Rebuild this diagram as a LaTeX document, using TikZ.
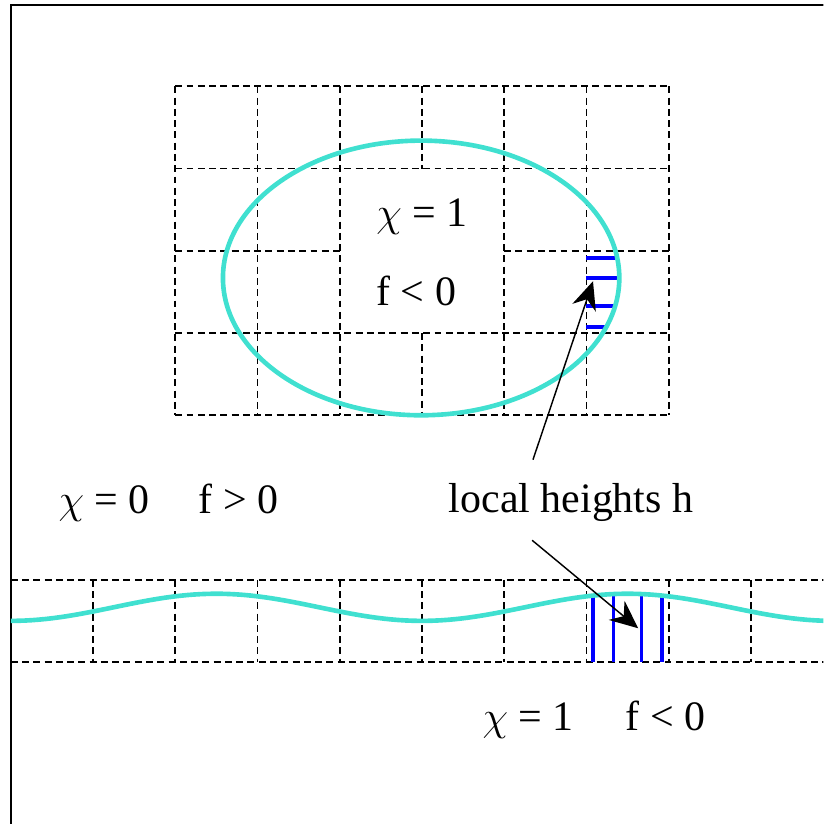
\documentclass[tikz,border=0pt]{standalone}
\usepackage{fontspec}
\setmainfont{Liberation Serif}
\usepackage{tikz}
\usetikzlibrary{arrows.meta, positioning}

\definecolor{wavecyan}{RGB}{64,224,208}

\begin{document}
\begin{tikzpicture}[
    cell/.style={draw, dash pattern=on 2.4pt off 1.5pt, line width=0.6pt},
    iface/.style={draw=wavecyan, line width=1.6pt},
    height/.style={draw=blue, line width=1.3pt},
    lbl/.style={font=\fontsize{14.5}{17}\selectfont, inner sep=0pt, anchor=base west},
    arr/.style={-{Stealth[length=3.4mm, width=3mm, inset=1.1mm]}, line width=0.5pt}
]
    \useasboundingbox (-0.131,-1.97) rectangle (9.88,8.05);
    \clip (-0.131,-1.97) rectangle (9.88,8.05);

    % Frame
    \draw[line width=0.7pt] (0,-2.5) rectangle (10.5,7.99);

    % Upper grid, middle 2x2 block left open
    \foreach \j in {3,4,6,7}{
        \path[cell] (2,\j) -- (8,\j);
    }
    \path[cell] (2,5) -- (4,5);
    \path[cell] (6,5) -- (8,5);
    \foreach \i in {2,3,4,6,7,8}{
        \path[cell] (\i,7) -- (\i,3);
    }
    \path[cell] (5,7) -- (5,6);
    \path[cell] (5,4) -- (5,3);

    % Lower grid
    \path[cell] (0,1) -- (10.2,1);
    \path[cell] (0,0) -- (10.2,0);
    \foreach \i in {1,...,9}{
        \path[cell] (\i,1) -- (\i,0);
    }

    % Drop
    \coordinate (dropc) at (4.99,4.67);
    \begin{scope}
        \clip (dropc) ellipse [x radius=2.41, y radius=1.67];
        \foreach \y in {4.91,4.67,4.33,4.075}{
            \draw[height] (7,\y) -- (8,\y);
        }
    \end{scope}
    \draw[iface] (dropc) ellipse [x radius=2.41, y radius=1.67];

    % Wavy interface
    \begin{scope}
        \clip plot[domain=0:10.2, samples=120] (\x, {0.665-0.165*cos(72*\x)}) -- (10.2,0) -- (0,0) -- cycle;
        \foreach \x in {7.08,7.33,7.67,7.92}{
            \draw[height] (\x,0) -- (\x,1);
        }
    \end{scope}
    \draw[iface] plot[domain=0:10.2, samples=120] (\x, {0.665-0.165*cos(72*\x)});

    % Labels
    \node[lbl] (chiin)  at (4.44,5.29)  {$\chi$ = 1};
    \node[lbl] (fin)    at (4.44,4.34)  {f < 0};
    \node[lbl] (chiout) at (0.574,1.81) {$\chi$ = 0};
    \node[lbl] (fout)   at (2.28,1.81)  {f > 0};
    \node[lbl] (hlbl)   at (5.32,1.82)  {local heights h};
    \node[lbl] (chilow) at (5.73,-0.83) {$\chi$ = 1};
    \node[lbl] (flow)   at (7.47,-0.83) {f < 0};

    % Arrows to the heights
    \coordinate (uptail) at (6.35,2.46);
    \coordinate (uptip)  at (7.08,4.63);
    \coordinate (lotail) at (6.34,1.48);
    \coordinate (lotip)  at (7.63,0.41);
    \draw[arr] (uptail) -- (uptip);
    \draw[arr] (lotail) -- (lotip);
\end{tikzpicture}
\end{document}
